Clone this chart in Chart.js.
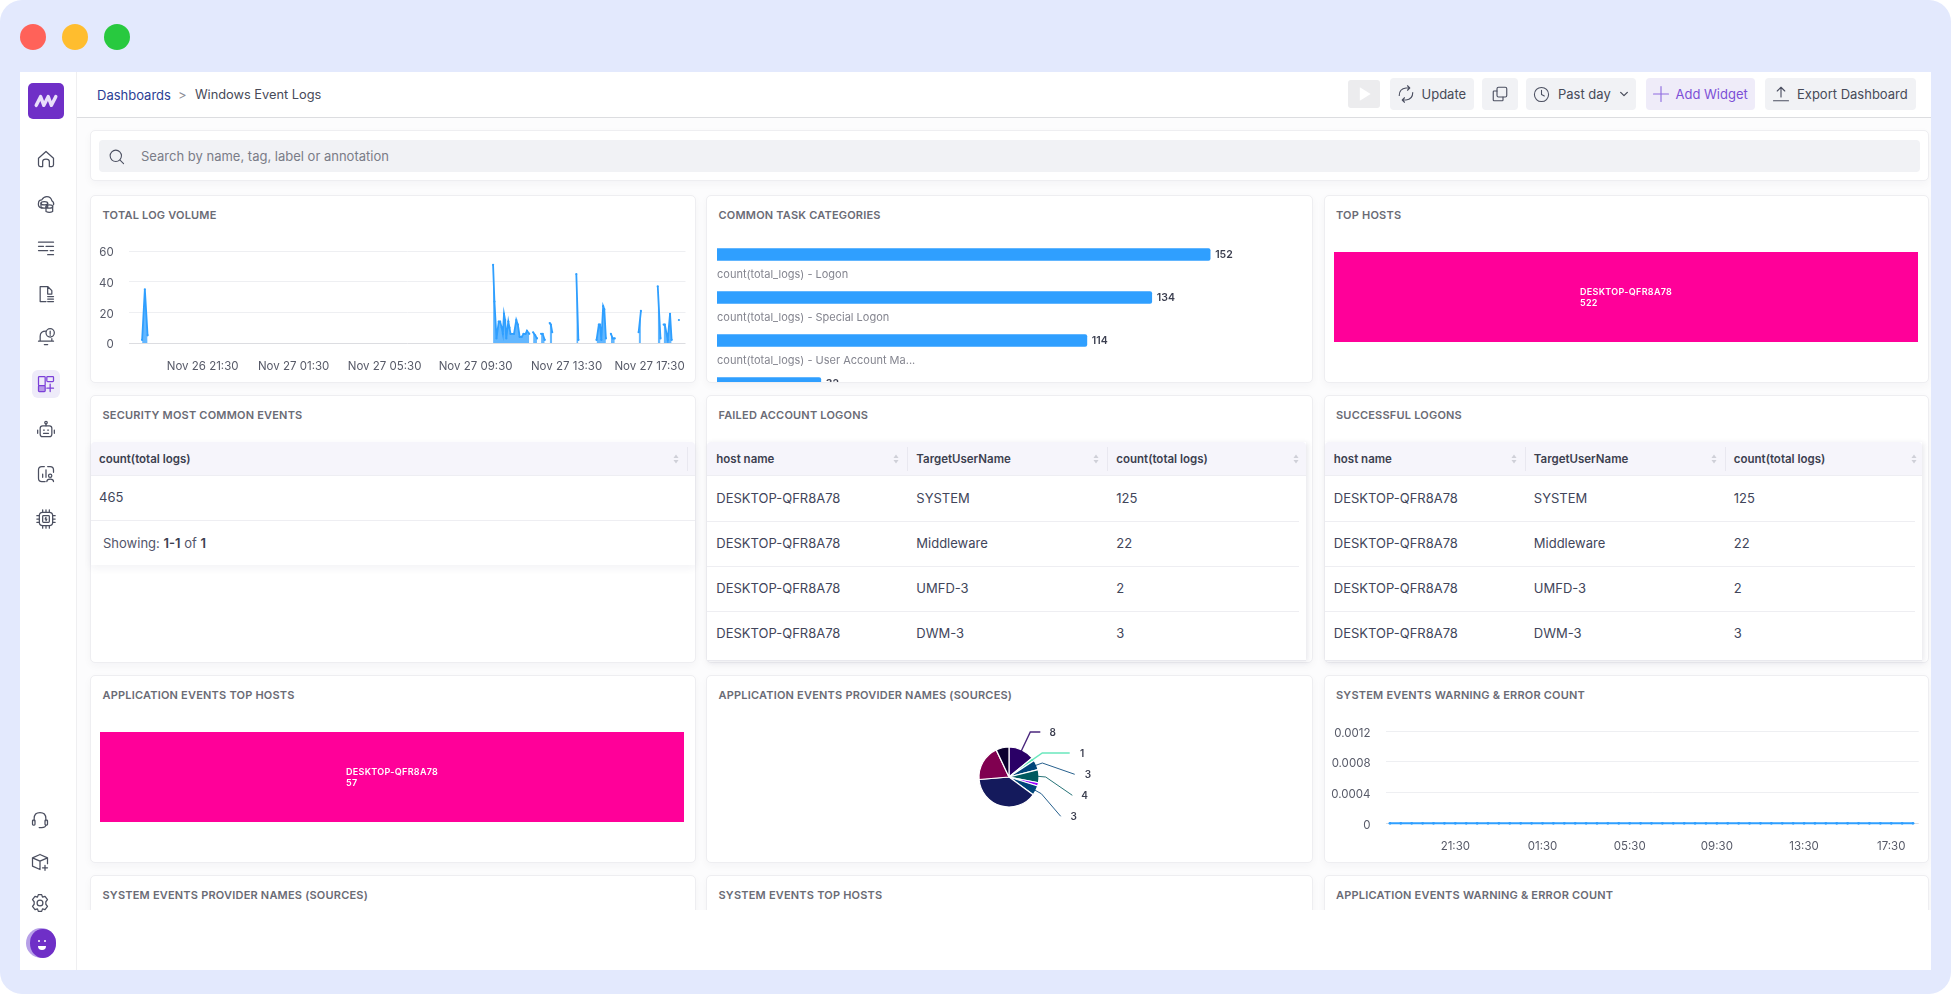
<!DOCTYPE html>
<html>
<head>
<meta charset="utf-8">
<title>Windows Event Logs</title>
<script src="https://cdn.jsdelivr.net/npm/chart.js@4"></script>
<style>
  html, body { margin: 0; padding: 0; width: 1951px; height: 994px; overflow: hidden; background: #fff; font-family: Inter, sans-serif; }
  .abs { position: absolute; }
  .t { position: absolute; white-space: nowrap; height: 20px; line-height: 20px; }
  .card { position: absolute; box-sizing: border-box; background: #fff; border: 1px solid #eeeef1; border-radius: 5px; box-shadow: 0 3px 8px rgba(30,30,60,.035); overflow: hidden; }
  .title { font-size: 11px; font-weight: 600; color: #6a6b75; letter-spacing: .2px; }
  canvas { position: absolute; display: block; }
  svg { position: absolute; overflow: visible; fill: none; }
</style>
</head>
<body>
<script>
// total log volume, hours counted from Nov 26 00:00, null breaks the line
var volumeHours = [18.84, 18.96, 19.08, 19.2, 34.27, 34.33, 34.42, 34.52, 34.58, 34.65, 34.70, 34.75, 34.80, 34.85, 34.94, 34.99, 35.04, 35.19, 35.29, 35.36, 35.44, 35.53, 35.61, 35.70, 35.76, 35.86, 35.95, 36.03, 36.12, 36.20, 36.3, 36.38, 36.45, 36.54, 36.65, 36.76, 36.81, 36.87, 37.4, 37.93, 38.02, 38.4, 38.82, 38.92, 38.97, 39.03, 39.11, 39.16, 39.23, 39.35, 39.45, 39.53, 39.62, 40.1, 40.67, 40.77, 41.1, 41.51, 41.63, 41.7, 41.77, 41.82, 41.95, 42.05, 42.12, 42.3, 42.44];
var volumeCounts = [2, 35, 5, null, 51, 27, 3, 14, 14, 10, 6, 19, 15, 3, 14, 10, 6, 6, 15, 12, 4, 4, 6, 6, 8, 6, null, 7, 5, 3, null, 6, 6, 2, null, 13, 12, 7, null, 45, 2, null, 2, 12, 12, 2, 24, 22, 3, null, 6, 3, 3, null, 7, 21, null, 37, 3, null, 12, 12, 2, 19, 2, null, 15];
var volumeTickHours = [21.5, 25.5, 29.5, 33.5, 37.5, 41.15];
var volumeTickLabels = ["Nov 26 21:30", "Nov 27 01:30", "Nov 27 05:30", "Nov 27 09:30", "Nov 27 13:30", "Nov 27 17:30"];
var volumeYTicks = [0, 20, 40, 60];

var taskCategories = ["count(total_logs) - Logon", "count(total_logs) - Special Logon", "count(total_logs) - User Account Ma...", "count(total_logs)"];
var taskCounts = [152, 134, 114, 32];

var topHostNames = ["DESKTOP-QFR8A78"];
var topHostCounts = [522];
var appHostNames = ["DESKTOP-QFR8A78"];
var appHostCounts = [57];

var providerCounts = [8, 1, 3, 4, 1, 3, 22, 11, 4];
var providerColors = ["#2a0066", "#4fe3b0", "#004479", "#005a5f", "#9a00ff", "#004479", "#141a5c", "#800050", "#0b002e"];

// system warnings, half hour steps from Nov 26 18:30
var systemHours = [18.5, 19, 19.5, 20, 20.5, 21, 21.5, 22, 22.5, 23, 23.5, 24, 24.5, 25, 25.5, 26, 26.5, 27, 27.5, 28, 28.5, 29, 29.5, 30, 30.5, 31, 31.5, 32, 32.5, 33, 33.5, 34, 34.5, 35, 35.5, 36, 36.5, 37, 37.5, 38, 38.5, 39, 39.5, 40, 40.5, 41, 41.5, 42, 42.5];
var systemCounts = [0, 0, 0, 0, 0, 0, 0, 0, 0, 0, 0, 0, 0, 0, 0, 0, 0, 0, 0, 0, 0, 0, 0, 0, 0, 0, 0, 0, 0, 0, 0, 0, 0, 0, 0, 0, 0, 0, 0, 0, 0, 0, 0, 0, 0, 0, 0, 0, 0];
var systemTickHours = [21.5, 25.5, 29.5, 33.5, 37.5, 41.5];
var systemTickLabels = ["21:30", "01:30", "05:30", "09:30", "13:30", "17:30"];
var systemYTicks = [0, 0.0004, 0.0008, 0.0012];

var logonColumns = ["host name", "TargetUserName", "count(total logs)"];
var logonHosts = ["DESKTOP-QFR8A78", "DESKTOP-QFR8A78", "DESKTOP-QFR8A78", "DESKTOP-QFR8A78"];
var logonUsers = ["SYSTEM", "Middleware", "UMFD-3", "DWM-3"];
var logonCounts = ["125", "22", "2", "3"];

var BLUE = "#2f9fff", PINK = "#ff0099", GRID = "#eeeff2", AXIS = "#dcdde1", TICK = "#575a68";
Chart.defaults.font.family = "Inter";
Chart.defaults.animation = false;

function el(tag, css, parent) {
  var d = document.createElement(tag);
  d.style.cssText = css;
  (parent || document.body).appendChild(d);
  return d;
}
function box(x, y, w, h, bg, extra, parent) {
  return el("div", "position:absolute;left:" + x + "px;top:" + y + "px;width:" + w + "px;height:" + h + "px;background:" + bg + ";" + (extra || ""), parent);
}
function txt(x, yc, s, css, parent) {
  var d = el("div", "left:" + x + "px;top:" + (yc - 10) + "px;" + (css || ""), parent);
  d.className = "t";
  d.textContent = s;
  return d;
}
function icon(cx, cy, size, inner, stroke, parent, sw) {
  var ns = "http://www.w3.org/2000/svg";
  var s = document.createElementNS(ns, "svg");
  s.setAttribute("viewBox", "0 0 24 24");
  s.setAttribute("width", size);
  s.setAttribute("height", size);
  s.style.left = (cx - size / 2) + "px";
  s.style.top = (cy - size / 2) + "px";
  s.style.stroke = stroke || "#4b4f60";
  s.style.strokeWidth = sw || 1.5;
  s.style.strokeLinecap = "round";
  s.style.strokeLinejoin = "round";
  s.innerHTML = inner;
  (parent || document.body).appendChild(s);
  return s;
}
function card(x, y, r, b, title, parent) {
  var c = el("div", "left:" + x + "px;top:" + y + "px;width:" + (r - x) + "px;height:" + (b - y) + "px;", parent);
  c.className = "card";
  var t = txt(x + 12.5, (y + 20), title, "", parent);
  t.className = "t title";
  return c;
}
function sorter(x, yc, parent) {
  icon(x, yc, 12, '<path d="M12 3 L17 10 H7 Z" fill="#cfd0d8" stroke="none"/><path d="M12 21 L17 14 H7 Z" fill="#cfd0d8" stroke="none"/>', "none", parent);
}
// chart.js reserves room for the outer tick labels, the screenshot does not
function noAxisPadding(s) {
  s.paddingTop = 0;
  s.paddingBottom = 0;
  s.paddingLeft = 0;
  s.paddingRight = 0;
}

// window chrome
box(0, 0, 1951, 994, "#e3e9fd", "border-radius:22px;");
el("div", "position:absolute;left:20px;top:72px;width:1911px;height:898px;background:#fff;");
box(20, 24, 26, 26, "#ff6259", "border-radius:50%;");
box(62, 24, 26, 26, "#ffbd2e", "border-radius:50%;");
box(104, 24, 26, 26, "#28c93f", "border-radius:50%;");
box(76, 72, 1, 898, "#efeff1");
box(77, 117, 1854, 1, "#dcdde0");

// sidebar
box(28, 83, 36, 36, "#6f2fc7", "border-radius:5px;");
icon(46, 101, 26, '<path d="M3 16 L7 8 L10 16 L14 8 L17 16 L21 8"/>', "#e9defa", null, 3.2);
var sideTop = [
  [159, '<path d="M3 11 L12 3 L21 11 V19 Q21 21 19 21 H16 V15 Q16 12 12 12 Q8 12 8 15 V21 H5 Q3 21 3 19 Z"/>'],
  [204, '<path d="M7 17 Q2 16 3 11 Q3 7 7 7 Q9 3 13 3 Q18 3 19 8 Q22 10 21 13"/><ellipse cx="10" cy="11" rx="4" ry="2"/><path d="M6 11 V16 Q10 18 14 16 V11"/><ellipse cx="16" cy="15" rx="4" ry="2"/><path d="M12 15 V21 Q16 23 20 21 V15"/>'],
  [248, '<path d="M3 5 H21 M3 10 H9 M12 10 H21 M3 15 H14 M17 15 H21 M14 20 H21"/>'],
  [294, '<path d="M14 3 H5 V21 H12 M14 3 L19 8 V12 H14 Z M14 15 H21 M14 18 H21 M14 21 H21"/>'],
  [337, '<path d="M5 17 V11 Q5 5 12 5 M5 17 H19 V14 M3 17 H21 M10 21 H14"/><circle cx="17" cy="7" r="5"/><path d="M17 5 V8 M17 9.5 V10"/>'],
  [430, '<circle cx="12" cy="3" r="1.5"/><path d="M12 5 V7"/><rect x="5" y="7" width="14" height="13" rx="3"/><path d="M9 12 H10 M14 12 H15 M9 16 H15 M2 12 V16 M22 12 V16"/>'],
  [474, '<path d="M10 3 H7 Q3 3 3 7 V17 Q3 21 7 21 H11 M14 3 H17 Q21 3 21 7 V10 M8 12 V16 M12 7 V16"/><circle cx="17" cy="14" r="2"/><path d="M13 21 Q13 18 17 18 Q21 18 21 21"/>'],
  [519, '<rect x="4" y="4" width="16" height="16" rx="4"/><rect x="8" y="8" width="8" height="8" rx="1"/><path d="M8 1 V4 M12 1 V4 M16 1 V4 M8 20 V23 M12 20 V23 M16 20 V23 M1 8 H4 M1 12 H4 M1 16 H4 M20 8 H23 M20 12 H23 M20 16 H23 M12 10 L11 12 H13 L12 14"/>']
];
sideTop.forEach(function (s) { icon(45.5, s[0], 20, s[1]); });
box(32, 370, 28, 28, "#eeebf9", "border-radius:6px;");
icon(46, 384, 20, '<rect x="3" y="3" width="8" height="11" rx="1"/><rect x="13" y="3" width="8" height="6" rx="1"/><rect x="3" y="14" width="8" height="7" rx="1" fill="#b79ae8"/><path d="M17 12 V21 M13 17 H21"/>', "#7b3fd8");
icon(40, 820, 20, '<path d="M5 13 V10 Q5 3 12 3 Q19 3 19 10 V13"/><rect x="3" y="12" width="3" height="6" rx="1"/><rect x="18" y="12" width="3" height="6" rx="1"/><path d="M19 18 Q19 21 14 21 H11"/>');
icon(40, 862, 20, '<path d="M12 3 L21 7 V14 M3 7 V17 L12 21 V11 L3 7 L12 3 M12 11 L21 7 M18 16 V22 M15 19 H21"/>');
icon(40, 903, 20, '<circle cx="12" cy="12" r="3.5"/><path d="M10 2 H14 L15 5 L18 4 L21 8 L19 10.5 V13.5 L21 16 L18 20 L15 19 L14 22 H10 L9 19 L6 20 L3 16 L5 13.5 V10.5 L3 8 L6 4 L9 5 Z"/>');
box(26, 928, 30, 30, "#b7a0e8", "border-radius:50%;");
box(30, 929, 26, 29, "#6f2fc7", "border-radius:48% 48% 50% 50%;");
box(38, 946, 8, 4, "#fff", "border-radius:0 0 5px 5px;");
box(38, 940, 2, 2, "#fff", "border-radius:50%;");
box(44, 940, 2, 2, "#fff", "border-radius:50%;");

// top bar
txt(97, 95, "Dashboards", "font-size:13px;color:#2c3e94;");
txt(178, 95, ">", "font-size:13px;color:#8b8d96;");
txt(195, 95, "Windows Event Logs", "font-size:12.8px;color:#474a58;");
box(1348, 80, 32, 28, "#ececee", "border-radius:3px;");
icon(1364, 94, 20, '<path d="M7 4 L20 12 L7 20 Z" fill="#fff" stroke="none"/>', "none");
box(1390, 78, 84, 32, "#f1f2f5", "border-radius:4px;");
icon(1406, 94, 18, '<path d="M3 14 Q3 5 12 4 L17 4 M14 1 L17 4 L14 7 M21 10 Q21 19 12 20 L7 20 M10 23 L7 20 L10 17"/>');
txt(1421.5, 94, "Update", "font-size:13px;color:#474a58;");
box(1482, 78, 36, 32, "#f1f2f5", "border-radius:4px;");
icon(1500, 94, 18, '<rect x="8" y="3" width="13" height="13" rx="2"/><path d="M8 8 H4 Q3 8 3 9 V20 Q3 21 4 21 H15 Q16 21 16 20 V16"/>');
box(1526, 78, 110, 32, "#f1f2f5", "border-radius:4px;");
icon(1541, 94, 17, '<circle cx="12" cy="12" r="10"/><path d="M12 6 V12 L16 14"/>');
txt(1558, 94, "Past day", "font-size:13px;color:#474a58;");
icon(1624, 94, 10, '<path d="M4 8 L12 16 L20 8"/>', "#474a58", null, 3);
box(1646, 78, 109, 32, "#efecf9", "border-radius:4px;");
icon(1660.5, 94, 18, '<path d="M12 2 V22 M2 12 H22"/>', "#8f6be0");
txt(1675.5, 94, "Add Widget", "font-size:13px;color:#7c4fd6;");
box(1765, 78, 151, 32, "#f1f2f5", "border-radius:4px;");
icon(1780.5, 94, 18, '<path d="M12 16 V3 M7 8 L12 3 L17 8 M2 21 H22"/>');
txt(1797, 94, "Export Dashboard", "font-size:13px;color:#474a58;");

// dashboard area, clipped like the scrolling pane in the screenshot
var pane = el("div", "position:absolute;left:0;top:0;width:1951px;height:994px;clip-path:inset(118px 20px 84px 77px);");
box(77, 118, 1854, 792, "#fcfcfd", "", pane);

var search = el("div", "left:90px;top:130px;width:1839px;height:51px;", pane);
search.className = "card";
box(99, 140, 1821, 32, "#f1f2f5", "border-radius:4px;", pane);
icon(116, 156, 17, '<circle cx="11" cy="11" r="8"/><path d="M17 17 L22 22"/>', "#4b4f60", pane);
txt(141, 156, "Search by name, tag, label or annotation", "font-size:13px;color:#7a7c87;", pane);

card(90, 195, 695.5, 383, "TOTAL LOG VOLUME", pane);
var c2 = card(706, 195, 1312.5, 383, "COMMON TASK CATEGORIES", pane);
card(1323.5, 195, 1929, 383, "TOP HOSTS", pane);
card(90, 395, 695.5, 663, "SECURITY MOST COMMON EVENTS", pane);
var failed = card(706, 395, 1312.5, 663, "FAILED ACCOUNT LOGONS", pane);
var success = card(1323.5, 395, 1929, 663, "SUCCESSFUL LOGONS", pane);
card(90, 675, 695.5, 863, "APPLICATION EVENTS TOP HOSTS", pane);
card(706, 675, 1312.5, 863, "APPLICATION EVENTS PROVIDER NAMES (SOURCES)", pane);
card(1323.5, 675, 1929, 863, "SYSTEM EVENTS WARNING & ERROR COUNT", pane);
card(90, 875, 695.5, 960, "SYSTEM EVENTS PROVIDER NAMES (SOURCES)", pane);
card(706, 875, 1312.5, 960, "SYSTEM EVENTS TOP HOSTS", pane);
card(1323.5, 875, 1929, 960, "APPLICATION EVENTS WARNING & ERROR COUNT", pane);

// tables
function headerRow(left, width, names, textX, sepX, sortX) {
  box(left, 442, width, 34, "#f6f5fb", "border-bottom:1px solid #eeeef3;box-sizing:border-box;border-radius:4px 4px 0 0;", pane);
  names.forEach(function (n, i) {
    txt(left + textX[i], 458.5, n, "font-size:11.5px;font-weight:600;color:#3c3f4f;", pane);
    sorter(left + sortX[i], 459, pane);
    if (sepX[i]) box(left + sepX[i], 447, 1, 24, "#e9e8f0", "", pane);
  });
}
function logonTable(left, width) {
  box(left, 442, width, 219, "#fff", "box-shadow:2px 1px 5px rgba(40,40,80,.10);", pane);
  headerRow(left, width, logonColumns, [9.3, 209.3, 409.3], [200.3, 400.3], [189, 389, 589]);
  logonUsers.forEach(function (u, i) {
    var yc = 498 + 45 * i;
    txt(left + 9.3, yc, logonHosts[i], "font-size:13px;color:#41455a;", pane);
    txt(left + 209.3, yc, u, "font-size:13px;color:#41455a;", pane);
    txt(left + 409.3, yc, logonCounts[i], "font-size:13px;color:#41455a;", pane);
    if (i < 3) box(left, 520.5 + 45 * i, width - 7, 1, "#eeeef2", "", pane);
  });
  box(left, 660, width, 1, "#e9e9ee", "", pane);
}
logonTable(707, 598.7);
logonTable(1324.5, 597.5);

box(91, 442, 604, 123, "#fff", "box-shadow:0 3px 8px rgba(40,40,80,.06);", pane);
headerRow(91, 604, ["count(total logs)"], [8], [596], [585]);
txt(99, 497, "465", "font-size:13px;color:#41455a;", pane);
box(91, 520, 604, 1, "#eeeef2", "", pane);
var showing = txt(103, 542.5, "", "font-size:13px;color:#52556a;", pane);
showing.innerHTML = 'Showing: <b style="font-weight:600;color:#3c3f4f">1-1</b> of <b style="font-weight:600;color:#3c3f4f">1</b>';

function makeCanvas(x, y, w, h, parent) {
  var c = el("canvas", "left:" + x + "px;top:" + y + "px;width:" + w + "px;height:" + h + "px;", parent || pane);
  c.width = w;
  c.height = h;
  return c;
}

function timeOptions(axisLeft, axisBottom, topPad, rightPad, xMin, xMax, tickHours, tickLabels, yTicks, yMax, labelPad) {
  return {
    responsive: false,
    layout: { autoPadding: false, padding: { top: topPad, right: rightPad, left: 0, bottom: 0 } },
    plugins: { legend: { display: false }, tooltip: { enabled: false } },
    scales: {
      x: {
        type: "linear",
        min: xMin,
        max: xMax,
        grid: { display: false, drawTicks: false },
        border: { display: false },
        afterBuildTicks: function (s) { s.ticks = tickHours.map(function (v) { return { value: v }; }); },
        afterFit: function (s) { s.height = axisBottom; noAxisPadding(s); },
        ticks: {
          autoSkip: false, maxRotation: 0, padding: 16.5,
          color: TICK, font: { size: 11.5 },
          callback: function (v, i) { return tickLabels[i]; }
        }
      },
      y: {
        min: 0,
        max: yMax,
        border: { display: false },
        afterBuildTicks: function (s) { s.ticks = yTicks.map(function (v) { return { value: v }; }); },
        afterFit: function (s) { s.width = axisLeft; noAxisPadding(s); },
        grid: {
          drawTicks: false,
          lineWidth: 1,
          color: function (ctx) { return ctx.tick && ctx.tick.value === 0 ? AXIS : GRID; }
        },
        ticks: {
          padding: labelPad, color: TICK, font: { size: 11.5 }, labelOffset: 2,
          callback: function (v) { return String(v); }
        }
      }
    }
  };
}

// total log volume
new Chart(makeCanvas(92, 240, 597, 135), {
  type: "line",
  data: {
    labels: volumeHours,
    datasets: [{
      data: volumeCounts,
      borderColor: BLUE,
      backgroundColor: "rgba(47,159,255,.75)",
      borderWidth: 1.8,
      pointRadius: 1.1,
      pointBackgroundColor: BLUE,
      pointBorderWidth: 0,
      fill: "origin",
      spanGaps: false,
      tension: 0
    }]
  },
  options: timeOptions(36.7, 32, 11, 3.5, 18.25, 42.73, volumeTickHours, volumeTickLabels, volumeYTicks, 60, 15)
});

// common task categories
var barValues = {
  id: "barValues",
  afterDatasetsDraw: function (chart) {
    var ctx = chart.ctx;
    ctx.save();
    ctx.font = "600 10.5px Inter";
    ctx.fillStyle = "#3c3f50";
    ctx.textBaseline = "middle";
    chart.getDatasetMeta(0).data.forEach(function (bar, i) {
      ctx.fillText(taskCounts[i], bar.x + 5, bar.y + 0.5);
    });
    ctx.restore();
  }
};
new Chart(makeCanvas(10, 36.5, 584, 172, c2), {
  type: "bar",
  data: {
    labels: taskCategories,
    datasets: [{ data: taskCounts, backgroundColor: BLUE, barThickness: 12, borderRadius: { topRight: 2, bottomRight: 2 }, borderSkipped: false }]
  },
  options: {
    indexAxis: "y",
    responsive: false,
    layout: { autoPadding: false, padding: 0 },
    plugins: { legend: { display: false }, tooltip: { enabled: false } },
    scales: {
      x: { display: false, min: 0, max: 180 },
      y: {
        grid: { display: false },
        border: { display: false },
        afterFit: function (s) { s.width = 0; noAxisPadding(s); },
        ticks: { mirror: true, padding: 0, labelOffset: 20, color: "#84858f", font: { size: 11 } }
      }
    }
  },
  plugins: [barValues]
});

// top host blocks
function hostBlock(x, y, names, counts) {
  var label = {
    id: "hostLabel",
    afterDatasetsDraw: function (chart) {
      var ctx = chart.ctx;
      ctx.save();
      ctx.font = "600 9px Inter";
      ctx.letterSpacing = "0.3px";
      ctx.fillStyle = "#fff";
      ctx.textBaseline = "middle";
      ctx.fillText(names[0], 246, 40);
      ctx.fillText(counts[0], 246, 51);
      ctx.restore();
    }
  };
  new Chart(makeCanvas(x, y, 584, 90), {
    type: "bar",
    data: { labels: names, datasets: [{ data: counts, backgroundColor: PINK, barPercentage: 1, categoryPercentage: 1 }] },
    options: {
      indexAxis: "y",
      responsive: false,
      layout: { padding: 0 },
      plugins: { legend: { display: false }, tooltip: { enabled: false } },
      scales: { x: { display: false, min: 0, max: counts[0] }, y: { display: false } }
    },
    plugins: [label]
  });
}
hostBlock(1334, 252, topHostNames, topHostCounts);
hostBlock(100, 732, appHostNames, appHostCounts);

// provider pie, callouts follow the echarts look of the original
var calloutSlices = [0, 1, 2, 3, 5];
var calloutElbows = [[21.3, -45], [33.3, -24], [33.3, -14], [36.7, 0], [32.3, 16.7]];
var calloutEnds = [[31.3, -45], [60.7, -24], [65.7, -2.7], [63.3, 18.3], [51.7, 39.3]];
var calloutText = [[43.7, -44], [73, -22.7], [79, -1.7], [75.7, 19.3], [64.7, 40]];
var pieCallouts = {
  id: "pieCallouts",
  afterDatasetsDraw: function (chart) {
    var ctx = chart.ctx, arcs = chart.getDatasetMeta(0).data;
    ctx.save();
    ctx.font = "600 10px Inter";
    ctx.textAlign = "center";
    ctx.textBaseline = "middle";
    calloutSlices.forEach(function (idx, i) {
      var a = arcs[idx], mid = (a.startAngle + a.endAngle) / 2, r = a.outerRadius - 2;
      ctx.strokeStyle = providerColors[idx];
      ctx.globalAlpha = 0.85;
      ctx.lineWidth = idx < 2 ? 1.4 : 1;
      ctx.beginPath();
      ctx.moveTo(a.x + Math.cos(mid) * r, a.y + Math.sin(mid) * r);
      ctx.lineTo(a.x + calloutElbows[i][0], a.y + calloutElbows[i][1]);
      ctx.lineTo(a.x + calloutEnds[i][0], a.y + calloutEnds[i][1]);
      ctx.stroke();
      ctx.globalAlpha = 1;
      ctx.fillStyle = "#3c3f50";
      ctx.fillText(providerCounts[idx], a.x + calloutText[i][0], a.y + calloutText[i][1]);
    });
    ctx.restore();
  }
};
new Chart(makeCanvas(859.3, 706.7, 300, 140), {
  type: "pie",
  data: {
    labels: providerCounts,
    datasets: [{ data: providerCounts, backgroundColor: providerColors, borderColor: "#fff", borderWidth: 1.2, radius: 30 }]
  },
  options: {
    responsive: false,
    layout: { padding: 0 },
    plugins: { legend: { display: false }, tooltip: { enabled: false } }
  },
  plugins: [pieCallouts]
});

// system events warning and error count
new Chart(makeCanvas(1330, 720, 593, 137), {
  type: "line",
  data: {
    labels: systemHours,
    datasets: [{
      data: systemCounts,
      borderColor: BLUE,
      borderWidth: 2,
      pointRadius: 1.4,
      pointBackgroundColor: BLUE,
      pointBorderWidth: 0,
      clip: false,
      fill: false
    }]
  },
  options: timeOptions(56, 33.7, 11.3, 4.3, 18.32, 42.76, systemTickHours, systemTickLabels, systemYTicks, 0.0012, 15.5)
});
</script>
</body>
</html>
